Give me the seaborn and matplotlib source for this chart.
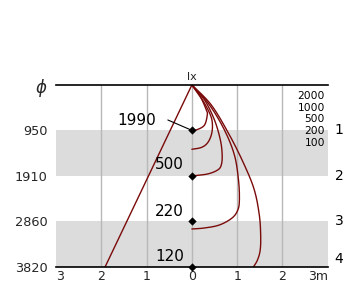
import numpy as np
import pandas as pd
import matplotlib
matplotlib.use("Agg")
import matplotlib.pyplot as plt
import seaborn as sns

# ---- data ----
depth_ticks = [0, 950, 1910, 2860, 3820]
depth_labels = ["$\\phi$", "950", "1910", "2860", "3820"]
x_ticks = [-3, -2, -1, 0, 1, 2, 3]
x_labels = ["3", "2", "1", "0", "1", "2", "3m"]
bands = [(950, 1910), (2860, 3820)]
layer_labels = ["1", "2", "3", "4"]
layer_depths = [950, 1910, 2860, 3650]
freq_labels = ["2000", "1000", "500", "200", "100"]
freq_label_depths = [230, 482, 712, 964, 1215]

# ray line (left)
ray_x = [0, -1.92]
ray_d = [0, 3820]

# curves (x offset in m, depth)
c1_x = [0, 0.17, 0.32, 0.34, 0.28, 0.125, 0]
c1_d = [0, 210, 524, 629, 838, 932, 950]
c2_x = [0, 0.235, 0.41, 0.455, 0.43, 0.345, 0.21, 0]
c2_d = [0, 314, 628, 838, 1047, 1215, 1309, 1347]
c3_x = [0, 0.28, 0.5, 0.63, 0.67, 0.65, 0.57, 0.345, 0]
c3_d = [0, 314, 733, 1152, 1466, 1676, 1781, 1865, 1905]
c4_x = [0, 0.39, 0.72, 0.94, 1.03, 1.05, 1.015, 0.89, 0.61, 0.28, 0]
c4_d = [0, 419, 943, 1467, 1990, 2409, 2619, 2786, 2933, 2996, 3017]
c5_x = [0, 0.43, 0.83, 1.16, 1.38, 1.49, 1.52, 1.51, 1.45, 1.36]
c5_d = [0, 419, 1047, 1676, 2200, 2724, 3143, 3457, 3666, 3813]

# points and their labels
pt_depths = [950, 1910, 2860, 3820]
pt_labels = ["1990", "500", "220", "120"]
pt_label_x = [-0.78, -0.18, -0.18, -0.18]
pt_label_d = [754, 1676, 2661, 3603]

curves = [(c1_x, c1_d), (c2_x, c2_d), (c3_x, c3_d), (c4_x, c4_d), (c5_x, c5_d)]

sns.set_style("white")
plt.rcParams["font.family"] = ["DejaVu Sans"]

fig = plt.figure(figsize=(3.6, 3.08), dpi=100)
ax = fig.add_axes([56 / 360, 1 - 267.3 / 308, (327.7 - 56) / 360, (267.3 - 85) / 308])

red = "#7a0a0a"

for lo, hi in bands:
    ax.axhspan(lo, hi, color="#dcdcdc", zorder=0, lw=0)
for xv in [-2, -1, 0, 1, 2]:
    ax.axvline(xv, color="#b8b8b8", lw=1, zorder=1)

# Catmull-Rom smoothing through the read points
smooth_rows = []
for i, (xs, ds) in enumerate(curves):
    P = np.column_stack([xs, ds]).astype(float)
    pts = []
    Pext = np.vstack([P[0], P, P[-1]])
    for k in range(len(P) - 1):
        p0, p1, p2, p3 = Pext[k], Pext[k + 1], Pext[k + 2], Pext[k + 3]
        for s in np.linspace(0, 1, 20, endpoint=False):
            s2, s3 = s * s, s * s * s
            pt = 0.5 * ((2 * p1) + (-p0 + p2) * s + (2 * p0 - 5 * p1 + 4 * p2 - p3) * s2
                        + (-p0 + 3 * p1 - 3 * p2 + p3) * s3)
            pts.append(pt)
    pts.append(P[-1])
    for j, pt in enumerate(pts):
        smooth_rows.append({"curve": i, "order": j, "x": pt[0], "depth": pt[1]})
sdf = pd.DataFrame(smooth_rows)

sns.lineplot(data=sdf, x="x", y="depth", units="curve", estimator=None, sort=False,
             color=red, lw=1.0, ax=ax, zorder=3)
sns.lineplot(x=ray_x, y=ray_d, sort=False, color=red, lw=1.0, ax=ax, zorder=3)

sns.scatterplot(x=[0] * len(pt_depths), y=pt_depths, marker="D", s=15, color="black",
                ax=ax, zorder=5, clip_on=False, edgecolor="black")

for lab, lx, ld in zip(pt_labels, pt_label_x, pt_label_d):
    ax.text(lx, ld, lab, ha="right", va="center", fontsize=11, color="black", zorder=6)
ax.plot([-0.53, 0], [733, 950], color="black", lw=0.8, zorder=4)

for lab, d in zip(freq_labels, freq_label_depths):
    ax.text(2.94, d, lab, ha="right", va="center", fontsize=7.7, color="black")
for lab, d in zip(layer_labels, layer_depths):
    ax.text(3.25, d, lab, ha="center", va="center", fontsize=10, color="black", clip_on=False)

ax.text(0, -60, "lx", ha="center", va="bottom", fontsize=8)

ax.set_xlim(-3, 3)
ax.set_ylim(3820, 0)
ax.set_xticks(x_ticks)
ax.set_xticklabels(x_labels, fontsize=9)
xt = ax.get_xticklabels()
xt[0].set_ha("left")
xt[-1].set_ha("right")
ax.set_yticks(depth_ticks)
ax.set_yticklabels(depth_labels, fontsize=9.3)
ax.get_yticklabels()[0].set_fontsize(12)
ax.tick_params(axis="both", length=0)
ax.tick_params(axis="y", pad=6)
ax.tick_params(axis="x", pad=2)
ax.set_xlabel("")
ax.set_ylabel("")
for s in ["left", "right"]:
    ax.spines[s].set_visible(False)
for s in ["top", "bottom"]:
    ax.spines[s].set_visible(True)
    ax.spines[s].set_color("black")
    ax.spines[s].set_linewidth(1.2)
    ax.spines[s].set_zorder(7)

fig.savefig("out.png", dpi=100)
